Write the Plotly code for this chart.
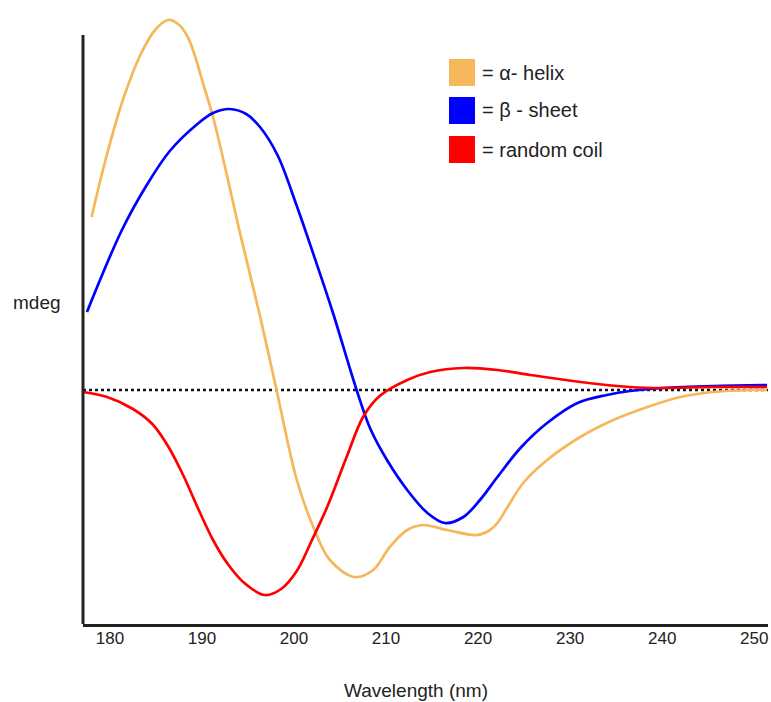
import plotly.graph_objects as go

# Wavelength (nm) and ellipticity (arbitrary mdeg units)
helix_wl = [178.0, 179.6, 181.4, 183.3, 184.9, 186.3, 187.4, 188.4, 189.2, 190.1, 191.2, 192.7,
            194.1, 196.3, 198.1, 200.3, 202.1, 203.9, 206.6, 208.6, 210.4, 212.3, 214.0, 216.6,
            219.9, 221.3, 222.1, 223.2, 224.9, 227.5, 231.1, 234.7, 238.4, 242.0, 245.5, 249.9, 251.4]
helix_val = [17.3, 23.3, 29.0, 33.5, 36.0, 37.0, 36.6, 35.4, 33.5, 30.7, 27.3, 21.5,
             15.8, 7.4, 0.0, -9.0, -13.7, -17.0, -18.7, -18.0, -15.7, -14.0, -13.5, -14.0,
             -14.5, -14.0, -13.3, -11.7, -9.3, -7.0, -4.7, -3.0, -1.7, -0.7, -0.2, 0.0, 0.0]

sheet_wl = [177.5, 181.3, 184.0, 186.5, 189.5, 191.2, 193.0, 194.8, 196.3, 198.2, 200.3, 202.1,
            204.2, 206.8, 208.3, 210.1, 212.3, 214.5, 216.4, 218.4, 220.2, 222.1, 224.6, 227.5,
            230.8, 234.0, 236.5, 240.1, 245.5, 251.4]
sheet_val = [7.8, 16.0, 20.5, 23.9, 26.6, 27.7, 28.1, 27.6, 26.3, 23.5, 18.4, 13.6,
             7.8, 0.0, -3.9, -7.0, -10.0, -12.3, -13.3, -12.7, -11.0, -8.7, -5.8, -3.3,
             -1.3, -0.5, -0.1, 0.2, 0.4, 0.5]

coil_wl = [177.1, 179.7, 182.5, 184.6, 186.3, 188.0, 189.6, 191.2, 192.8, 194.6, 196.8, 198.6,
           200.3, 201.9, 203.6, 205.8, 207.5, 209.3, 212.3, 214.8, 218.4, 222.1, 225.7, 231.1,
           236.5, 240.1, 245.5, 251.4]
coil_val = [-0.2, -0.7, -1.9, -3.4, -5.6, -8.6, -11.9, -15.0, -17.4, -19.3, -20.5, -19.9,
            -18.1, -15.1, -11.7, -6.5, -2.7, -0.6, 1.0, 1.8, 2.2, 2.0, 1.5, 0.8,
            0.3, 0.2, 0.3, 0.3]

tick_vals = [180, 190, 200, 210, 220, 230, 240, 250]
tick_text = ["180", "190", "200", "210", "220", "230", "240", "250"]

legend_labels = ["= \u03b1- helix", "= \u03b2 - sheet", "= random coil"]
colors = ["#F5B75A", "#0000FF", "#FF0000"]

X_RANGE = [177.07, 251.5]
Y_RANGE = [-23.4, 37.5]
AXIS_TOP = 35.5

FONT = "Liberation Sans, Arial, sans-serif"

W, H = 771, 702
L, T, R, B = 83, 15, 3, 78
PW = W - L - R
PH = H - T - B


def px_x(px):
    return (px - L) / PW


def px_y(py):
    return (H - B - py) / PH


fig = go.Figure()
for wl, val, col in [(helix_wl, helix_val, colors[0]),
                     (sheet_wl, sheet_val, colors[1]),
                     (coil_wl, coil_val, colors[2])]:
    fig.add_trace(go.Scatter(x=wl, y=val, mode="lines",
                             line=dict(color=col, width=2.7, shape="spline", smoothing=1.0),
                             showlegend=False, hoverinfo="skip"))

shapes = [
    dict(type="line", xref="paper", yref="y", x0=0, x1=1, y0=0, y1=0,
         line=dict(color="#111111", width=2.6, dash="dot"), layer="below"),
    dict(type="line", xref="paper", yref="y", x0=0, x1=0, y0=Y_RANGE[0], y1=AXIS_TOP,
         line=dict(color="#222222", width=3)),
]

annotations = [
    dict(text="mdeg", xref="paper", yref="paper", x=px_x(37), y=px_y(302),
         showarrow=False, xanchor="center", yanchor="middle",
         font=dict(family=FONT, size=19, color="#222222")),
    dict(text="Wavelength (nm)", xref="paper", yref="paper", x=px_x(416), y=px_y(690),
         showarrow=False, xanchor="center", yanchor="middle",
         font=dict(family=FONT, size=19, color="#222222")),
]

sq_tops = [59, 97, 136]
for lab, col, top in zip(legend_labels, colors, sq_tops):
    shapes.append(dict(type="rect", xref="paper", yref="paper",
                       x0=px_x(449), x1=px_x(475),
                       y0=px_y(top), y1=px_y(top + 27),
                       fillcolor=col, line=dict(width=0)))
    annotations.append(dict(text=lab, xref="paper", yref="paper",
                            x=px_x(480), y=px_y(top + 13.5),
                            showarrow=False, xanchor="left", yanchor="middle",
                            font=dict(family=FONT, size=20, color="#222222")))

fig.update_layout(
    width=W, height=H,
    margin=dict(l=L, r=R, t=T, b=B),
    plot_bgcolor="white", paper_bgcolor="white",
    xaxis=dict(range=X_RANGE, tickvals=tick_vals, ticktext=tick_text,
               showgrid=False, zeroline=False, showline=True, linecolor="#222222", linewidth=2.5,
               ticks="", ticklabelstandoff=-3, fixedrange=True,
               tickfont=dict(family=FONT, size=17, color="#222222")),
    yaxis=dict(range=Y_RANGE, showgrid=False, zeroline=False, showline=False,
               showticklabels=False, ticks="", fixedrange=True),
    shapes=shapes,
    annotations=annotations,
)

fig.write_html("out.html",
               config={"displayModeBar": False},
               post_script="document.body.style.margin='0';"
                           "document.documentElement.style.overflow='hidden';")
